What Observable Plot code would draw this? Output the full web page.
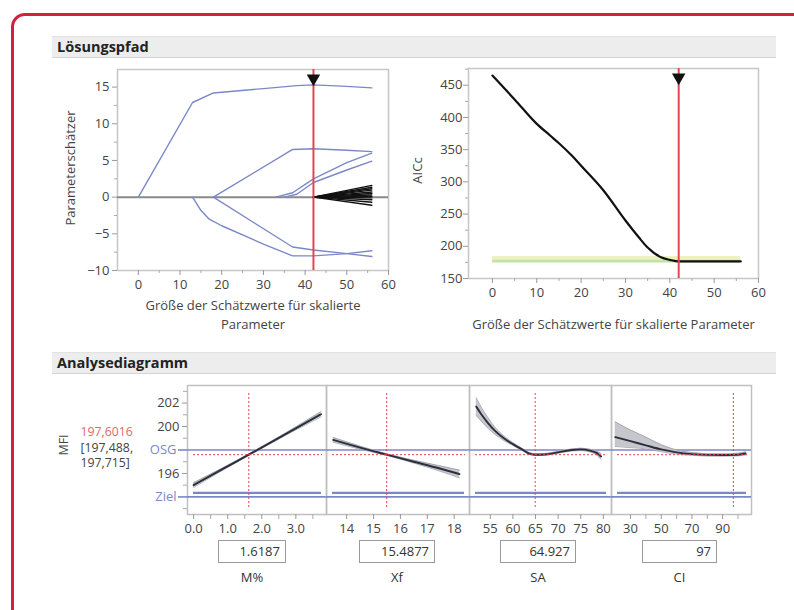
<!DOCTYPE html>
<html><head><meta charset="utf-8">
<script src="https://cdn.jsdelivr.net/npm/d3@7"></script>
<script src="https://cdn.jsdelivr.net/npm/@observablehq/plot@0.6"></script>
<style>
body{margin:0;background:#fff;overflow:hidden;font-family:"Open Sans",sans-serif;}
#root{position:relative;width:794px;height:610px;overflow:hidden;background:#fff;}
.border{position:absolute;left:11px;top:13px;width:820px;height:640px;border:3px solid #d3203b;border-radius:14px;box-sizing:border-box;}
.hdr{position:absolute;left:52px;width:724px;height:22px;background:#ededed;border-top:1px solid #e2e2e2;border-bottom:1px solid #d4d4d4;font-weight:bold;font-size:14.5px;color:#222;line-height:20px;padding-left:5px;box-sizing:border-box;}
.box{position:absolute;height:23px;border:1.5px solid #9a9a9a;box-sizing:border-box;text-align:right;font-size:13px;line-height:20px;padding-right:5px;color:#333;background:#fff;}
.vname{position:absolute;font-size:13px;color:#333;text-align:center;width:80px;}
svg{position:absolute;}
</style></head>
<body><div id="root"></div>
<script>
// ---------- Lösungspfad: parameter paths [step, estimate] ----------
const pathA = [[0,0],[13,12.9],[18,14.2],[30,14.8],[38,15.2],[42,15.3],[50,15.1],[56,14.9]];
const pathB = [[18,0],[37,6.5],[42,6.6],[50,6.4],[56,6.2]];
const pathC = [[33,0],[37,0.6],[42,2.5],[50,4.7],[56,6.0]];
const pathD = [[35,0],[38,0.4],[42,2.0],[50,3.7],[56,4.9]];
const pathE = [[13,0],[15,-1.8],[17,-3.0],[20,-3.9],[30,-6.4],[37,-8.0],[42,-8.0],[50,-7.7],[56,-7.3]];
const pathF = [[18,0],[37,-6.8],[42,-7.2],[50,-7.7],[56,-8.1]];
const fanStart = 42, fanEndStep = 56;
const fanEnds = [1.6, 1.35, 1.15, 0.95, 0.7, 0.5, 0.3, 0.1, -0.1, -0.35, -0.7, -1.1];
const selectedStep = 42;

// ---------- AICc path ----------
const aiccStep = [0,5,10,13,15,18,20,25,30,33,35,38,40,42,45,50,56];
const aiccVal  = [465,428,390,372,360,340,325,287,240,214,198,183,179,176.5,176.5,176.5,176.5];
const aiccBandLow = 174, aiccBandMid = 179, aiccBandHigh = 184, aiccBandEnd = 56;

// ---------- Analysediagramm (profiler) ----------
const predValue = 197.6016, ciLow = 197.488, ciHigh = 197.715;
const osgValue = 198, zielValue = 194, lowerSpec = 194.35;
const yTicksProf = [202, 200, 196];
const yMinorProf = [203, 201, 199, 197, 195, 193];

const mX  = [0, 0.9, 1.62, 2.7, 3.74];
const mY  = [195.0, 196.45, 197.6, 199.35, 201.05];
const mLo = [194.8, 196.35, 197.54, 199.25, 200.83];
const mHi = [195.2, 196.55, 197.66, 199.45, 201.27];
const mCurrent = 1.6187;

const xfX  = [13.5, 14.5, 15.49, 16.5, 17.5, 18.2];
const xfY  = [198.86, 198.2, 197.6, 197.0, 196.4, 195.95];
const xfLo = [198.66, 198.07, 197.53, 196.88, 196.17, 195.62];
const xfHi = [199.06, 198.33, 197.67, 197.12, 196.63, 196.28];
const xfCurrent = 15.4877;

const saX  = [51.9, 53, 54.5, 56, 58, 60, 62, 63.5, 64.9, 67, 70, 73, 75, 77, 78.5, 79.5];
const saY  = [201.7, 201.05, 200.3, 199.65, 199.0, 198.5, 198.05, 197.72, 197.6, 197.62, 197.8, 198.0, 198.05, 197.95, 197.75, 197.45];
const saLo = [200.95, 200.45, 199.85, 199.35, 198.8, 198.38, 197.95, 197.64, 197.53, 197.54, 197.72, 197.92, 197.95, 197.83, 197.58, 197.2];
const saHi = [202.45, 201.65, 200.75, 199.95, 199.2, 198.62, 198.15, 197.8, 197.68, 197.7, 197.88, 198.08, 198.15, 198.07, 197.92, 197.7];
const saCurrent = 64.927;

const ciX  = [20, 30, 40, 50, 60, 70, 80, 90, 100, 105];
const ciY  = [199.1, 198.75, 198.4, 198.05, 197.8, 197.65, 197.58, 197.57, 197.6, 197.7];
const ciLo = [198.3, 198.2, 198.1, 197.85, 197.65, 197.55, 197.48, 197.47, 197.5, 197.58];
const ciHi = [200.4, 199.7, 199.1, 198.45, 198.0, 197.78, 197.68, 197.67, 197.72, 197.85];
const ciCurrent = 97;

const factorNames = ["M%", "Xf", "SA", "CI"];
const factorValueText = ["1.6187", "15.4877", "64.927", "97"];

// ---------- helpers ----------
const root = document.getElementById("root");
const FONT = "Open Sans";
const BLUE = "#7b88c8", RED = "#e0474f";
function put(el, left, top) { el.style.left = left + "px"; el.style.top = top + "px"; root.appendChild(el); return el; }
function div(cls, text) { const d = document.createElement("div"); d.className = cls; if (text != null) d.textContent = text; return d; }
const de = d3.formatLocale({decimal: ",", thousands: ".", grouping: [3], currency: ["", "€"]});

put(div("border"), 11, 13);
put(div("hdr", "Lösungspfad"), 52, 36);
put(div("hdr", "Analysediagramm"), 52, 352);

// ---------- top-left: parameter estimates ----------
const blueRows = [];
[pathA, pathB, pathC, pathD, pathE, pathF].forEach((p, i) => p.forEach(([s, v]) => blueRows.push({id: i, s, v})));
const fanRows = [];
fanEnds.forEach((e, i) => { fanRows.push({id: i, s: fanStart, v: 0}); fanRows.push({id: i, s: fanEndStep, v: e}); });

const tl = Plot.plot({
  width: 360, height: 285,
  marginLeft: 77, marginRight: 12, marginTop: 9, marginBottom: 75,
  style: {background: "transparent", fontFamily: FONT, fontSize: "13px", color: "#444"},
  x: {domain: [-5, 60], axis: null},
  y: {domain: [-10, 17.4], axis: null},
  marks: [
    Plot.frame({stroke: "#c6c6c6", strokeWidth: 1.5}),
    Plot.axisY({ticks: [-10, -5, 0, 5, 10, 15], tickSize: 5, tickPadding: 3, stroke: "#999", fill: "#444", label: null}),
    Plot.axisY({ticks: [-7.5, -2.5, 2.5, 7.5, 12.5], tickSize: 3, tickFormat: () => "", stroke: "#aaa", label: null}),
    Plot.axisX({ticks: [0, 10, 20, 30, 40, 50, 60], tickSize: 5, tickPadding: 4, stroke: "#999", fill: "#444", label: null}),
    Plot.axisX({ticks: [5, 15, 25, 35, 45, 55], tickSize: 3, tickFormat: () => "", stroke: "#aaa", label: null}),
    Plot.ruleY([0], {stroke: "#8a8a8a", strokeWidth: 2}),
    Plot.line(blueRows, {x: "s", y: "v", z: "id", stroke: BLUE, strokeWidth: 1.4}),
    Plot.line(fanRows, {x: "s", y: "v", z: "id", stroke: "#111", strokeWidth: 1.4}),
    Plot.ruleX([selectedStep], {stroke: RED, strokeWidth: 2}),
    Plot.dot([selectedStep], {x: d => d, frameAnchor: "top", dy: 9, symbol: "triangle", rotate: 180, r: 5, fill: "#111"}),
    Plot.text(["Größe der Schätzwerte für skalierte\nParameter"], {frameAnchor: "bottom", lineAnchor: "top", dy: 27, lineHeight: 1.4, fontSize: 13, fill: "#444"}),
    Plot.text(["Parameterschätzer"], {frameAnchor: "left", textAnchor: "middle", rotate: -90, dx: -47, dy: -2, fontSize: 13, fill: "#444"})
  ]
});
tl.style.left = "40px"; tl.style.top = "60px"; root.appendChild(tl);

// ---------- top-right: AICc ----------
const aiccRows = aiccStep.map((s, i) => ({s, v: aiccVal[i]}));
const tr = Plot.plot({
  width: 380, height: 290,
  marginLeft: 68, marginRight: 22, marginTop: 8, marginBottom: 72,
  style: {background: "transparent", fontFamily: FONT, fontSize: "13px", color: "#444"},
  x: {domain: [-5.4, 60], axis: null},
  y: {domain: [150, 476], axis: null},
  marks: [
    Plot.frame({stroke: "#c6c6c6", strokeWidth: 1.5}),
    Plot.rect([{a: 0, b: aiccBandEnd, lo: aiccBandLow, hi: aiccBandMid}], {x1: "a", x2: "b", y1: "lo", y2: "hi", fill: "#c5e2a6"}),
    Plot.rect([{a: 0, b: aiccBandEnd, lo: aiccBandMid, hi: aiccBandHigh}], {x1: "a", x2: "b", y1: "lo", y2: "hi", fill: "#eef1bd"}),
    Plot.axisY({ticks: [150, 200, 250, 300, 350, 400, 450], tickSize: 5, tickPadding: 1, stroke: "#999", fill: "#444", label: null}),
    Plot.axisY({ticks: [175, 225, 275, 325, 375, 425, 475], tickSize: 3, tickFormat: () => "", stroke: "#aaa", label: null}),
    Plot.axisX({ticks: [0, 10, 20, 30, 40, 50, 60], tickSize: 5, tickPadding: 4, stroke: "#999", fill: "#444", label: null}),
    Plot.axisX({ticks: [5, 15, 25, 35, 45, 55], tickSize: 3, tickFormat: () => "", stroke: "#aaa", label: null}),
    Plot.line(aiccRows, {x: "s", y: "v", stroke: "#111", strokeWidth: 2.2, curve: "monotone-x"}),
    Plot.ruleX([selectedStep], {stroke: RED, strokeWidth: 2}),
    Plot.dot([selectedStep], {x: d => d, frameAnchor: "top", dy: 9, symbol: "triangle", rotate: 180, r: 5, fill: "#111"}),
    Plot.text(["Größe der Schätzwerte für skalierte Parameter"], {frameAnchor: "bottom", dy: 50, fontSize: 13, fill: "#444"}),
    Plot.text(["AICc"], {frameAnchor: "left", textAnchor: "middle", rotate: -90, dx: -51, dy: -3, fontSize: 13, fill: "#444"})
  ]
});
tr.style.left = "400px"; tr.style.top = "60px"; root.appendChild(tr);

// ---------- profiler panels ----------
function profiler(cfg) {
  const rows = cfg.x.map((x, i) => ({x, y: cfg.y[i], lo: cfg.lo[i], hi: cfg.hi[i]}));
  const marks = [
    Plot.frame({stroke: "#c0c0c0", strokeWidth: 1.5}),
    Plot.ruleY([osgValue, zielValue], {stroke: BLUE, strokeWidth: 1.6}),
    Plot.ruleY([lowerSpec], {stroke: BLUE, strokeWidth: 2.2, insetLeft: 6, insetRight: 5}),
    Plot.areaY(rows, {x: "x", y1: "lo", y2: "hi", fill: "#c6c7cc", curve: "monotone-x"}),
    Plot.line(rows, {x: "x", y: "lo", stroke: "#9c9ea6", strokeWidth: 0.8, curve: "monotone-x"}),
    Plot.line(rows, {x: "x", y: "hi", stroke: "#9c9ea6", strokeWidth: 0.8, curve: "monotone-x"}),
    Plot.line(rows, {x: "x", y: "y", stroke: "#2b2f3d", strokeWidth: 1.9, curve: "monotone-x"}),
    Plot.ruleY([predValue], {stroke: RED, strokeDasharray: "2,2", insetLeft: 6, insetRight: 4}),
    Plot.ruleX([cfg.current], {stroke: RED, strokeDasharray: "2,2", insetTop: 8, insetBottom: 5}),
    Plot.axisX({ticks: cfg.ticks, tickFormat: cfg.fmt, tickSize: 5, tickPadding: 4, stroke: "#999", fill: "#444", label: null}),
    Plot.axisX({ticks: cfg.minor, tickFormat: () => "", tickSize: 5, stroke: "#aaa", label: null})
  ];
  if (cfg.yaxis) {
    marks.push(
      Plot.axisY({ticks: yTicksProf, tickFormat: d3.format("d"), tickSize: 5, tickPadding: 3, stroke: "#999", fill: "#444", label: null}),
      Plot.axisY({ticks: yMinorProf, tickFormat: () => "", tickSize: 4, stroke: "#aaa", label: null}),
      Plot.axisY({ticks: [osgValue, zielValue], tickFormat: d => d === osgValue ? "OSG" : "Ziel", tickSize: 9, tickPadding: 2, color: BLUE, strokeWidth: 1.6, label: null}),
      Plot.text([de.format(".4f")(predValue)], {frameAnchor: "left", dx: -107, dy: -17.5, textAnchor: "start", fill: "#e06868", fontSize: 12.3}),
      Plot.text(["[" + de.format(".3f")(ciLow) + ","], {frameAnchor: "left", dx: -107, dy: -2, textAnchor: "start", fill: "#444", fontSize: 12.3}),
      Plot.text([de.format(".3f")(ciHigh) + "]"], {frameAnchor: "left", dx: -107, dy: 13.5, textAnchor: "start", fill: "#444", fontSize: 12.3}),
      Plot.text(["MFI"], {frameAnchor: "left", textAnchor: "middle", rotate: -90, dx: -124, dy: -5, fill: "#444", fontSize: 12.5})
    );
  }
  const svg = Plot.plot({
    width: cfg.width, height: 170,
    marginLeft: cfg.mL, marginRight: cfg.mR, marginTop: 15, marginBottom: 26,
    style: {background: "transparent", fontFamily: FONT, fontSize: "13px", color: "#444"},
    x: {domain: cfg.domain, axis: null},
    y: {domain: [192.5, 203.5], axis: null},
    marks
  });
  svg.style.left = cfg.left + "px"; svg.style.top = "370px";
  root.appendChild(svg);
}

profiler({x: mX, y: mY, lo: mLo, hi: mHi, current: mCurrent, domain: [-0.18, 3.9],
  ticks: [0, 1, 2, 3], minor: [0.5, 1.5, 2.5, 3.5], fmt: d3.format(".1f"),
  left: 40, width: 300, mL: 147, mR: 14, yaxis: true});
profiler({x: xfX, y: xfY, lo: xfLo, hi: xfHi, current: xfCurrent, domain: [13.25, 18.57],
  ticks: [14, 15, 16, 17, 18], minor: [], fmt: d3.format("d"),
  left: 316, width: 165, mL: 10, mR: 12});
profiler({x: saX, y: saY, lo: saLo, hi: saHi, current: saCurrent, domain: [50.4, 81.8],
  ticks: [55, 60, 65, 70, 75, 80], minor: [], fmt: d3.format("d"),
  left: 459, width: 165, mL: 10, mR: 13});
profiler({x: ciX, y: ciY, lo: ciLo, hi: ciHi, current: ciCurrent, domain: [17.6, 108.8],
  ticks: [30, 50, 70, 90], minor: [40, 60, 80, 100], fmt: d3.format("d"),
  left: 601, width: 165, mL: 10, mR: 15});

// value boxes & factor names
const boxLeft = [218, 359, 500, 642], boxWidth = [68, 76, 76, 75];
factorNames.forEach((n, i) => {
  const b = put(div("box", factorValueText[i]), boxLeft[i], 540);
  b.style.width = boxWidth[i] + "px";
  put(div("vname", n), boxLeft[i] + boxWidth[i] / 2 - 40, 568);
});
</script></body></html>
